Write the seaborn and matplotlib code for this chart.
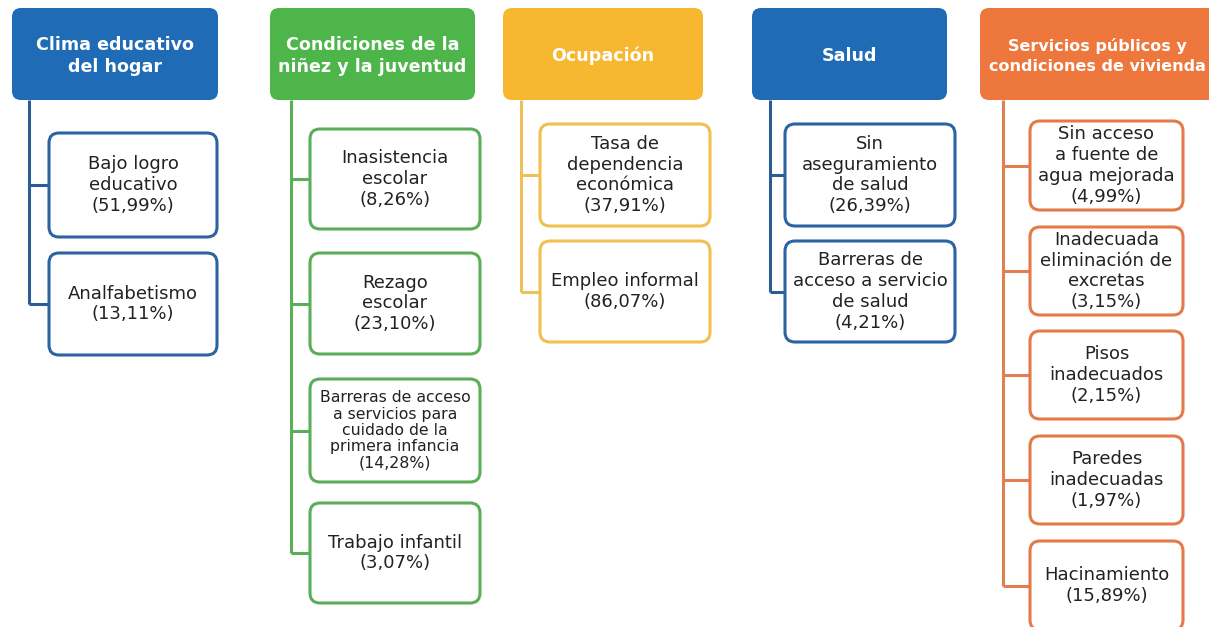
import matplotlib
matplotlib.use("Agg")
import matplotlib.pyplot as plt
from matplotlib.patches import FancyBboxPatch
import seaborn as sns

# ---------------- data ----------------
dimensions = [
    "Clima educativo\ndel hogar",
    "Condiciones de la\nniñez y la juventud",
    "Ocupación",
    "Salud",
    "Servicios públicos y\ncondiciones de vivienda",
]
clima_items = ["Bajo logro\neducativo", "Analfabetismo"]
clima_values = [51.99, 13.11]
ninez_items = ["Inasistencia\nescolar", "Rezago\nescolar",
               "Barreras de acceso\na servicios para\ncuidado de la\nprimera infancia",
               "Trabajo infantil"]
ninez_values = [8.26, 23.10, 14.28, 3.07]
ocupacion_items = ["Tasa de\ndependencia\neconómica", "Empleo informal"]
ocupacion_values = [37.91, 86.07]
salud_items = ["Sin\naseguramiento\nde salud", "Barreras de\nacceso a servicio\nde salud"]
salud_values = [26.39, 4.21]
vivienda_items = ["Sin acceso\na fuente de\nagua mejorada", "Inadecuada\neliminación de\nexcretas",
                  "Pisos\ninadecuados", "Paredes\ninadecuadas", "Hacinamiento"]
vivienda_values = [4.99, 3.15, 2.15, 1.97, 15.89]

items = [clima_items, ninez_items, ocupacion_items, salud_items, vivienda_items]
values = [clima_values, ninez_values, ocupacion_values, salud_values, vivienda_values]

# ---------------- styles / layout ----------------
header_colors = ["#1F6BB5", "#4DB549", "#F8B731", "#1F6BB5", "#EE773D"]
border_colors = ["#2B63A3", "#5BAE58", "#F1C04F", "#2B63A3", "#E27A4A"]
line_colors = ["#2B5C96", "#5BAE58", "#EEC05A", "#2B5C96", "#DE8050"]

header_x = [(12, 218), (270, 475), (503, 703), (752, 947), (980, 1225)]
header_y = (8, 100)
header_fs = [12.6, 12.6, 12.6, 12.6, 11.5]
header_tx = [115, 372.5, 603, 849.5, 1097]
trunk_x = [29, 291, 521, 770, 1003]
child_x = [(49, 217), (310, 480), (540, 710), (785, 955), (1030, 1183)]
child_tops = [133, 129, 124, 124, 121]
child_heights = [[104, 102], [100, 101, 103, 100], [102, 101], [102, 101], [89, 88, 88, 88, 89]]
child_gap = [[0, 16], [0, 24, 25, 21], [0, 15], [0, 15], [0, 17, 16, 17, 17]]

sns.set_theme(style="white")
plt.rcParams["font.family"] = ["DejaVu Sans"]

W, H = 1209, 627
fig = plt.figure(figsize=(W / 100, H / 100), dpi=100)
ax = fig.add_axes([0, 0, 1, 1])
ax.set_xlim(0, W)
ax.set_ylim(H, 0)
ax.axis("off")
fig.patch.set_facecolor("white")

def rbox(x0, y0, x1, y1, fc, ec, lw, r):
    p = FancyBboxPatch((x0 + r, y0 + r), (x1 - x0) - 2 * r, (y1 - y0) - 2 * r,
                       boxstyle=f"round,pad={r},rounding_size={r}",
                       fc=fc, ec=ec, lw=lw, zorder=3, clip_on=False)
    ax.add_patch(p)

for i, name in enumerate(dimensions):
    hx0, hx1 = header_x[i]
    rbox(hx0, header_y[0], hx1, header_y[1], header_colors[i], header_colors[i], 0, 9)
    ax.text(header_tx[i], (header_y[0] + header_y[1]) / 2 + 2, name, ha="center", va="center",
            color="white", fontsize=header_fs[i], fontweight="bold",
            linespacing=1.3 if i < 4 else 1.4, zorder=4)

    cx0, cx1 = child_x[i]
    y = child_tops[i]
    mids = []
    for j, (lab, val) in enumerate(zip(items[i], values[i])):
        y += child_gap[i][j]
        h = child_heights[i][j]
        rbox(cx0, y, cx1, y + h, "white", border_colors[i], 2.2, 10)
        txt = f"{lab}\n({val:.2f}%)".replace(".", ",")
        small = lab.count("\n") >= 3
        fs = 11.3 if small else 13.0
        ax.text((cx0 + cx1) / 2, y + h / 2, txt, ha="center", va="center",
                color="#222222", fontsize=fs, linespacing=1.12 if small else 1.2, zorder=4)
        mids.append(y + h / 2)
        y += h
    tx0 = trunk_x[i]
    ax.plot([tx0, tx0], [header_y[1], mids[-1]], color=line_colors[i], lw=2.2, zorder=2,
            solid_capstyle="butt")
    for m in mids:
        ax.plot([tx0, cx0], [m, m], color=line_colors[i], lw=2.2, zorder=2,
                solid_capstyle="butt")

fig.savefig("out.png", dpi=100, facecolor="white")
